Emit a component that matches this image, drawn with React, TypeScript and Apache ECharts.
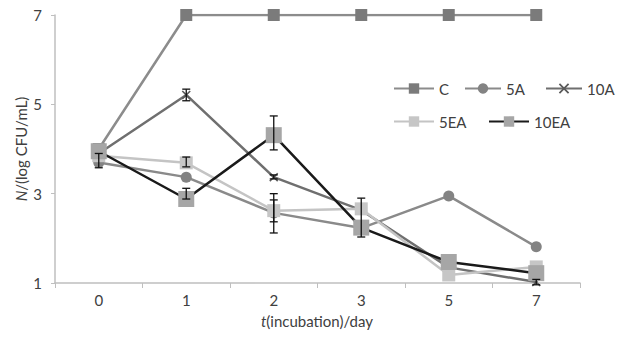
import React, { useEffect, useRef } from "react";
import * as echarts from "echarts";

const categories = ["0", "1", "2", "3", "5", "7"];
const seriesNames = ["C", "5A", "10A", "5EA", "10EA"];
const seriesC = [4.0, 7, 7, 7, 7, 7];
const series5A = [3.7, 3.37, 2.57, 2.23, 2.95, 1.81];
const series10A = [3.9, 5.21, 3.37, 2.63, 1.35, 1.02];
const series5EA = [3.85, 3.69, 2.62, 2.66, 1.18, 1.36];
const series10EA = [3.95, 2.88, 4.31, 2.24, 1.47, 1.22];
// error bars: [category index, low, high]
const errorBars = [
  [0, 3.58, 3.9],
  [1, 5.08, 5.34],
  [1, 3.6, 3.82],
  [1, 2.88, 3.12],
  [2, 3.98, 4.74],
  [2, 3.33, 3.42],
  [2, 2.12, 3.0],
  [2, 2.37, 2.86],
  [3, 2.03, 2.9],
  [5, 0.96, 1.08],
];
const yTicks = [1, 3, 5, 7];
const xName = ["t", "(incubation)/day"];
const yName = ["N", "/(log CFU/mL)"];

const FONT = "Lato";
const CROSS = "path://M0,1.2L1.2,0L5,3.8L8.8,0L10,1.2L6.2,5L10,8.8L8.8,10L5,6.2L1.2,10L0,8.8L3.8,5Z";
const TXT = "#404040";

// legend placement: [left, top, itemWidth]
const legendPos: [number, number, number][] = [
  [393, 81, 40],
  [464, 81, 36],
  [545, 81, 36],
  [393, 114, 40],
  [488, 114, 40],
];

export default function App() {
  const ref = useRef<HTMLDivElement>(null);
  useEffect(() => {
    const chart = echarts.init(ref.current!, null, { renderer: "svg" });
    const line = (name: string, data: number[], color: string, symbol: string, size: number, symColor: string, z: number) => ({
      name,
      type: "line",
      data,
      z,
      symbol,
      symbolSize: size,
      lineStyle: { color, width: 2.5 },
      itemStyle: { color: symColor, borderColor: symColor, borderWidth: 0 },
      emphasis: { disabled: true },
    });
    const legendText = { fontFamily: FONT, fontSize: 15, color: TXT };
    const richName = (parts: string[]) => ({
      text: `{i|${parts[0]}}{n|${parts[1]}}`,
      rich: {
        i: { fontStyle: "italic", fontSize: 15, fontFamily: FONT, fill: TXT },
        n: { fontSize: 15, fontFamily: FONT, fill: TXT },
      },
      fill: TXT,
      font: `15px ${FONT}`,
      align: "center",
      verticalAlign: "middle",
    });
    chart.setOption({
      animation: false,
      textStyle: { fontFamily: FONT },
      grid: { left: 55, right: 37, top: 15, bottom: 54 },
      graphic: [
        { type: "text", x: 317, y: 321, style: richName(xName) },
        { type: "text", x: 21, y: 149, rotation: Math.PI / 2, style: richName(yName) },
      ],
      legend: seriesNames.map((n, i) => ({
        data: [n],
        left: legendPos[i][0],
        top: legendPos[i][1],
        width: 80,
        padding: 0,
        itemWidth: legendPos[i][2],
        itemHeight: 13,
        textStyle: legendText,
      })),
      xAxis: {
        type: "category",
        data: categories,
        boundaryGap: true,
        axisLine: { lineStyle: { color: "#bfbfbf", width: 1.5 } },
        axisTick: { show: true, length: 5, lineStyle: { color: "#bfbfbf" } },
        axisLabel: { color: TXT, fontSize: 15, fontFamily: FONT, margin: 9 },
      },
      yAxis: {
        type: "value",
        min: 1,
        max: 7,
        interval: 2,
        axisLine: { show: true, lineStyle: { color: "#bfbfbf", width: 1.5 } },
        axisTick: { show: true, length: 4, lineStyle: { color: "#bfbfbf" } },
        splitLine: { show: false },
        axisLabel: {
          color: TXT,
          fontSize: 15,
          fontFamily: FONT,
          margin: 13,
          formatter: (v: number) => (yTicks.includes(v) ? String(v) : ""),
        },
      },
      series: [
        line(seriesNames[0], seriesC, "#8c8c8c", "rect", 12, "#7b7b7b", 2),
        line(seriesNames[1], series5A, "#8a8a8a", "circle", 11, "#838383", 3),
        line(seriesNames[2], series10A, "#6f6f6f", CROSS, 9, "#5a5a5a", 4),
        line(seriesNames[3], series5EA, "#c4c4c4", "rect", 13, "#c6c6c6", 5),
        line(seriesNames[4], series10EA, "#1a1a1a", "rect", 16, "#a6a6a6", 6),
        {
          type: "custom",
          z: 10,
          data: errorBars,
          silent: true,
          renderItem: (params: any, api: any) => {
            const x = api.value(0);
            const lo = api.coord([x, api.value(1)]);
            const hi = api.coord([x, api.value(2)]);
            const w = 4;
            const st = { stroke: "#111", lineWidth: 1.3 };
            return {
              type: "group",
              children: [
                { type: "line", shape: { x1: lo[0], y1: lo[1], x2: hi[0], y2: hi[1] }, style: st },
                { type: "line", shape: { x1: lo[0] - w, y1: lo[1], x2: lo[0] + w, y2: lo[1] }, style: st },
                { type: "line", shape: { x1: hi[0] - w, y1: hi[1], x2: hi[0] + w, y2: hi[1] }, style: st },
              ],
            };
          },
        },
      ],
    });
    return () => chart.dispose();
  }, []);
  return <div ref={ref} style={{ width: 617, height: 337, position: "absolute", left: 0, top: 0 }} />;
}
